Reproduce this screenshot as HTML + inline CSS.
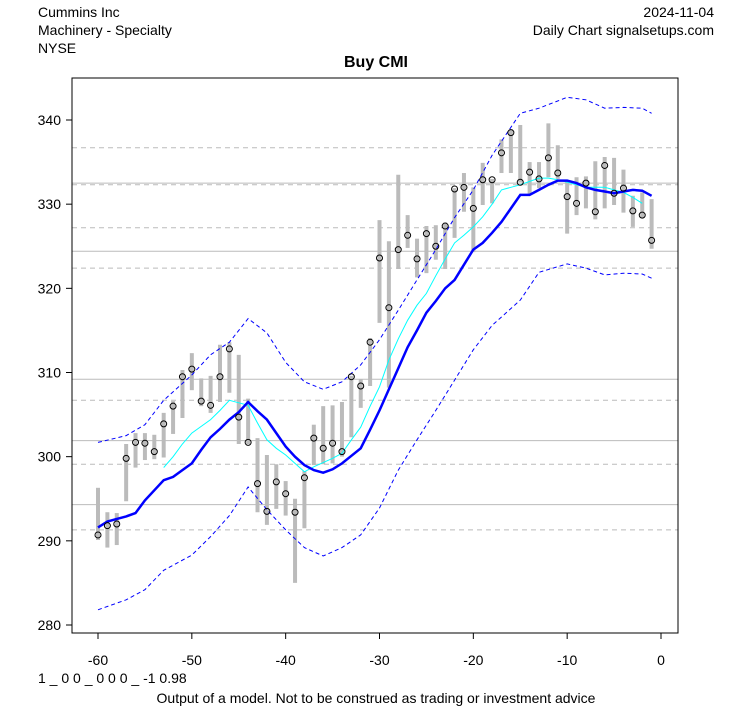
<!DOCTYPE html>
<html><head><meta charset="utf-8"><style>
body{margin:0;background:#fff;font-family:"Liberation Sans",Arial,sans-serif}
svg text{font-family:"Liberation Sans",Arial,sans-serif}
</style></head><body>
<svg id="c" width="753" height="708">
<text x="38" y="17" font-size="14">Cummins Inc</text>
<text x="38" y="35" font-size="14">Machinery - Specialty</text>
<text x="38" y="53" font-size="14">NYSE</text>
<text x="714" y="17" font-size="14" text-anchor="end">2024-11-04</text>
<text x="714" y="35" font-size="14" text-anchor="end">Daily Chart signalsetups.com</text>
<text x="376" y="67" font-size="16" font-weight="bold" text-anchor="middle">Buy CMI</text>
<text x="38" y="683" font-size="14">1 _ 0 0 _ 0 0 0 _ -1 0.98</text>
<text x="376" y="703" font-size="14" text-anchor="middle">Output of a model. Not to be construed as trading or investment advice</text>
<g id="g"></g>
<rect x="72" y="78" width="606" height="555" fill="none" stroke="#000"/>
</svg>
<script>
const days=[];for(let d=-60;d<=-1;d++)days.push(d);
const closes=[290.7,291.8,292.0,299.8,301.7,301.6,300.6,303.9,306.0,309.5,310.4,306.6,306.1,309.5,312.8,304.7,301.7,296.8,293.5,297.0,295.6,293.4,297.5,302.2,301.0,301.6,300.6,309.5,308.4,313.6,323.6,317.7,324.6,326.3,323.5,326.5,325.0,327.4,331.8,332.0,329.5,332.9,332.9,336.1,338.5,332.6,333.8,333.0,335.5,333.7,330.9,330.1,332.5,329.1,334.6,331.3,331.9,329.2,328.7,325.7];
const highs=[296.3,293.4,293.3,301.5,302.8,302.8,302.6,305.2,306.6,310.3,312.3,309.3,309.6,313.3,313.6,312.1,306.9,302.2,300.2,299.1,297.1,295.0,298.3,303.8,306.0,306.1,306.5,309.6,309.2,314.1,328.1,325.6,333.5,328.7,325.9,327.4,327.5,327.8,331.9,333.7,332.0,334.9,333.0,337.7,338.9,339.4,335.0,335.0,339.6,337.0,332.8,333.2,333.3,335.1,335.6,335.5,334.1,331.0,331.4,330.6];
const lows=[290.1,289.2,289.5,294.7,298.7,299.6,299.7,299.9,302.7,304.6,307.9,306.0,305.2,306.5,307.6,301.5,301.5,293.4,291.9,293.8,293.0,285.0,291.5,299.0,299.1,299.2,300.0,302.3,305.8,308.4,315.9,308.2,322.3,324.8,321.3,321.8,323.4,322.3,326.0,329.1,324.3,329.9,330.1,333.7,333.7,332.6,331.1,331.9,333.2,333.0,326.5,328.7,329.5,328.2,329.5,329.9,329.0,327.3,328.4,324.7];
const maSlow=[291.6,292.3,292.6,292.9,293.3,294.8,296.0,297.2,297.6,298.4,299.2,300.8,302.3,303.3,304.4,305.3,306.5,305.4,304.4,302.8,301.2,300.0,299.0,298.4,298.1,298.5,299.2,300.1,301.0,303.2,305.5,308.0,310.5,313.0,315.0,317.1,318.5,320.0,321.0,322.8,324.6,325.4,326.6,327.9,329.5,331.1,331.1,331.7,332.3,332.8,332.8,332.5,332.0,331.7,331.5,331.3,331.5,331.7,331.6,331.0];
const maFast=[null,null,null,null,null,null,null,298.7,300.0,301.5,302.8,303.6,304.4,305.5,306.7,306.4,306.1,304.0,302.0,301.0,300.2,299.2,298.2,298.8,299.3,299.8,300.4,302.0,303.5,306.0,308.3,311.5,314.0,316.2,318.0,319.4,321.5,323.5,325.4,326.3,327.3,328.5,330.0,331.7,332.0,332.3,332.7,333.1,333.1,332.9,332.6,332.3,332.0,332.0,332.0,331.7,331.4,330.8,330.1,null];
const bandDays=[-60,-57,-55,-53,-50,-48,-46,-44,-42,-40,-38,-36,-34,-32,-30,-28,-26,-24,-22,-20,-18,-15,-13,-10,-8,-6,-4,-2,-1];
const upperBand=[301.7,302.5,303.8,306.7,309.7,312.1,313.6,316.4,314.7,311.2,308.9,308.0,308.9,310.9,313.9,317.4,321.0,324.6,328.4,331.7,335.8,340.8,341.4,342.7,342.4,341.4,341.5,341.4,340.8];
const lowerBand=[281.8,283.0,284.2,286.5,288.3,290.5,293.0,296.4,293.7,291.3,289.2,288.2,289.2,290.7,293.9,298.4,302.0,305.5,309.1,312.7,315.6,318.6,321.9,322.9,322.4,321.6,321.8,321.7,321.2];
const solidLevels=[332.5,324.4,309.2,301.9,294.3];
const dashedLevels=[336.7,332.3,327.2,322.4,306.7,299.1,291.3];
const yTicks=[280,290,300,310,320,330,340];
const xTicks=[-60,-50,-40,-30,-20,-10,0];

const X=d=>98+(d+60)*(563/60);
const Y=p=>120+(340-p)*(505/60);
const g=document.getElementById('g');
const NS='http://www.w3.org/2000/svg';
function mk(t,a){const e=document.createElementNS(NS,t);for(const k in a)e.setAttribute(k,a[k]);g.appendChild(e);return e;}
solidLevels.forEach(v=>{const e=mk('line',{x1:72,x2:678,y1:Y(v),y2:Y(v),stroke:'#bbb','stroke-width':1});

});
dashedLevels.forEach(v=>{const e=mk('line',{x1:72,x2:678,y1:Y(v),y2:Y(v),stroke:'#bbb','stroke-width':1,'stroke-dasharray':'5,4'});

});
yTicks.forEach(v=>{const y=Y(v);mk('line',{x1:66,x2:72,y1:y,y2:y,stroke:'#000'});
const t=mk('text',{x:61,y:y+5,'font-size':14,'text-anchor':'end'});t.textContent=v;

});
xTicks.forEach(v=>{const x=X(v);mk('line',{x1:x,x2:x,y1:633,y2:639,stroke:'#000'});
const t=mk('text',{x:x,y:665,'font-size':14,'text-anchor':'middle'});t.textContent=v;

});
days.forEach((d,i)=>{const e=mk('line',{x1:X(d),x2:X(d),y1:Y(highs[i]),y2:Y(lows[i]),stroke:'#bbb','stroke-width':4});

});
function path(xs,ys,attrs,name){let s='';xs.forEach((d,i)=>{if(ys[i]==null)return;s+=(s?'L':'M')+X(d).toFixed(1)+','+Y(ys[i]).toFixed(1);});
const e=mk('path',Object.assign({d:s,fill:'none'},attrs));

}
path(bandDays,upperBand,{stroke:'#0000ff','stroke-width':1,'stroke-dasharray':'4,3'},'upper-band');
path(bandDays,lowerBand,{stroke:'#0000ff','stroke-width':1,'stroke-dasharray':'4,3'},'lower-band');
path(days,maFast,{stroke:'#00ffff','stroke-width':1},'fast-moving-average');
path(days,maSlow,{stroke:'#0000ff','stroke-width':2.5},'slow-moving-average');
days.forEach((d,i)=>{const e=mk('circle',{cx:X(d),cy:Y(closes[i]),r:3,fill:'none',stroke:'#000','stroke-width':1});

});
</script>
</body></html>
